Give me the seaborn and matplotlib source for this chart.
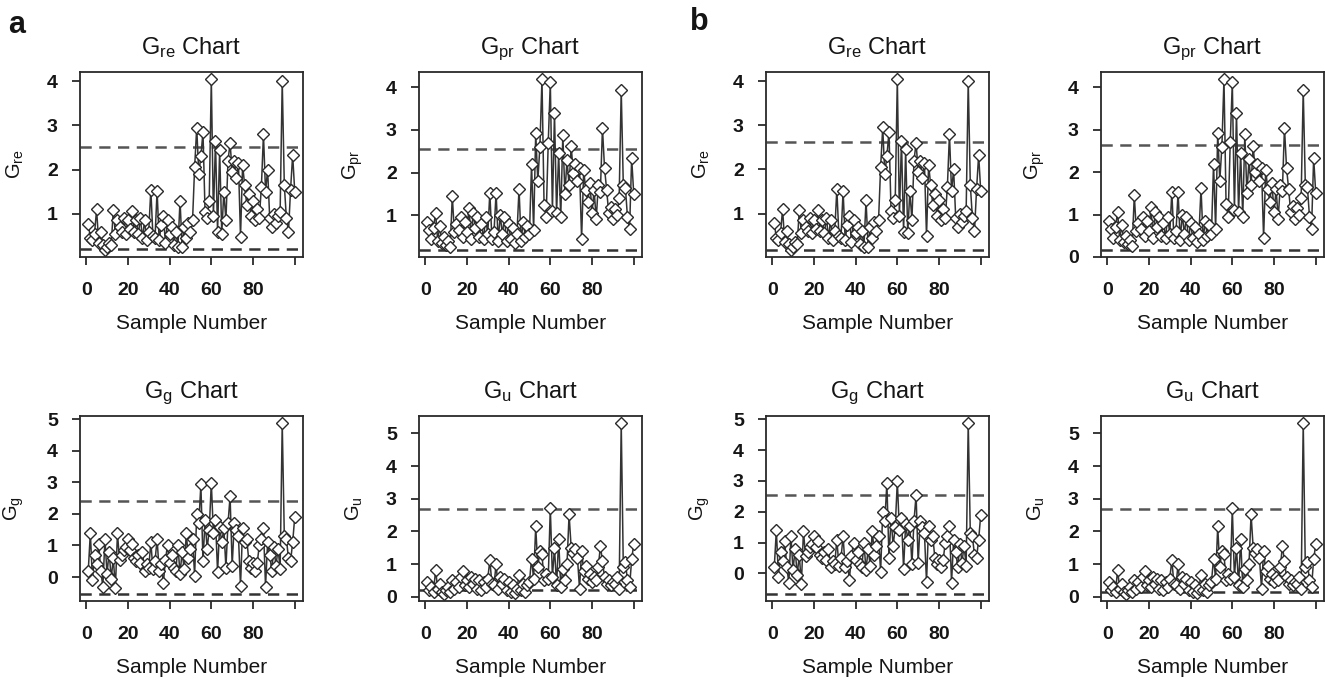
import matplotlib
matplotlib.use("Agg")
import matplotlib.pyplot as plt
import seaborn as sns
import pandas as pd
from matplotlib.ticker import MultipleLocator, FixedLocator

# ---------------- data ----------------
sample = list(range(1, 101))

g_re = [0.78, 0.45, 0.40, 0.55, 1.10, 0.35, 0.60, 0.30, 0.18, 0.25,
        0.35, 0.30, 1.08, 0.55, 0.85, 0.70, 0.60, 0.90, 0.55, 0.85,
        0.65, 1.07, 0.60, 0.85, 0.55, 0.90, 0.45, 0.85, 0.40, 0.60,
        1.55, 0.50, 0.45, 1.52, 0.40, 0.75, 0.95, 0.35, 0.85, 0.55,
        0.70, 0.30, 0.60, 0.25, 1.30, 0.25, 0.70, 0.45, 0.80, 0.60,
        0.85, 2.05, 2.95, 1.90, 2.30, 2.85, 1.05, 0.90, 1.30, 4.05,
        0.95, 2.65, 0.58, 2.45, 0.55, 1.50, 0.85, 2.20, 2.60, 1.95,
        2.20, 1.80, 2.15, 0.48, 2.10, 1.65, 1.20, 1.45, 0.95, 1.30,
        0.85, 1.10, 0.90, 1.60, 2.80, 1.50, 2.00, 0.90, 0.70, 1.00,
        0.80, 0.95, 1.05, 4.00, 1.65, 0.90, 0.60, 1.55, 2.33, 1.50]

g_pr = [0.85, 0.65, 0.45, 0.70, 1.06, 0.40, 0.75, 0.35, 0.50, 0.30,
        0.40, 0.25, 1.45, 0.60, 0.80, 0.65, 0.95, 0.50, 0.85, 0.60,
        1.18, 0.45, 1.05, 0.70, 0.95, 0.50, 0.80, 0.45, 0.95, 0.55,
        1.53, 0.45, 0.60, 1.53, 0.40, 1.00, 0.55, 0.95, 0.40, 0.80,
        0.45, 0.70, 0.35, 0.55, 1.62, 0.40, 0.85, 0.50, 0.75, 0.55,
        2.20, 0.65, 2.93, 1.80, 2.60, 4.20, 1.25, 0.95, 2.70, 4.12,
        1.10, 3.40, 1.05, 2.45, 0.95, 2.89, 1.50, 2.30, 1.70, 2.62,
        2.00, 2.20, 1.80, 2.10, 0.44, 2.05, 1.60, 1.30, 1.75, 1.05,
        1.60, 0.90, 1.70, 1.55, 3.05, 2.10, 1.60, 1.05, 1.20, 0.90,
        1.15, 1.00, 1.40, 3.94, 1.70, 1.65, 0.95, 0.67, 2.34, 1.50]

g_g = [0.20, 1.40, -0.10, 0.70, 0.40, 1.05, 0.20, -0.30, 1.20, 0.10,
       0.80, -0.05, 0.60, -0.35, 1.38, 0.55, 0.70, 0.85, 0.95, 1.20,
       0.85, 1.05, 0.60, 0.50, 0.70, 0.45, 0.80, 0.20, 0.40, 0.30,
       1.10, 0.25, 0.50, 1.20, 0.20, 0.40, -0.20, 0.55, 1.00, 0.45,
       0.70, 0.30, 0.20, 1.00, 0.10, 0.80, 0.25, 1.38, 0.60, 0.90,
       1.20, 0.05, 2.00, 1.70, 2.93, 0.50, 1.80, 0.90, 1.50, 2.98,
       1.40, 1.80, 0.15, 1.60, 1.10, 1.55, 0.30, 1.70, 2.55, 0.35,
       1.70, 1.50, 1.30, -0.28, 1.55, 1.10, 1.20, 0.50, 0.30, 0.45,
       0.20, 0.45, 1.00, 1.20, 1.55, -0.30, 1.10, 0.70, 0.20, 0.95,
       0.35, 0.90, 0.25, 4.88, 1.30, 1.20, 0.60, 0.50, 1.10, 1.90]

g_u = [0.44, 0.20, 0.30, 0.15, 0.82, 0.25, 0.40, 0.15, 0.08, 0.20,
       0.30, 0.15, 0.50, 0.25, 0.45, 0.30, 0.60, 0.80, 0.35, 0.50,
       0.30, 0.60, 0.40, 0.55, 0.25, 0.50, 0.20, 0.45, 0.30, 0.55,
       1.12, 0.40, 0.35, 1.00, 0.25, 0.60, 0.40, 0.55, 0.20, 0.45,
       0.15, 0.35, 0.10, 0.25, 0.67, 0.20, 0.40, 0.15, 0.35, 0.45,
       1.17, 0.55, 2.15, 0.90, 1.40, 1.30, 0.50, 0.70, 0.55, 2.72,
       0.60, 1.50, 0.35, 1.77, 0.30, 0.85, 0.50, 1.00, 2.52, 1.50,
       1.35, 1.45, 1.20, 0.25, 1.40, 0.80, 0.95, 0.55, 0.70, 0.45,
       0.60, 0.50, 0.90, 1.55, 1.10, 0.60, 0.40, 0.50, 0.35, 0.45,
       0.40, 0.60, 0.25, 5.32, 0.90, 1.05, 0.50, 0.30, 1.15, 1.60]

subscripts = ["re", "pr", "g", "u"]
lcl_a = [0.20, 0.18, -0.54, 0.20]
ucl_a = [2.52, 2.56, 2.42, 2.69]
lcl_b = [0.17, 0.16, -0.67, 0.15]
ucl_b = [2.62, 2.64, 2.53, 2.70]
x_ticks = [0, 20, 40, 60, 80, 100]
x_ticklabels = ["0", "20", "40", "60", "80", ""]
panel_letters = ["a", "b"]

series = [g_re, g_pr, g_g, g_u]

# ---------------- style ----------------
sns.set_theme(style="ticks")
plt.rcParams["font.family"] = ["Liberation Sans", "DejaVu Sans"]
plt.rcParams["mathtext.default"] = "regular"

fig = plt.figure(figsize=(13.25, 6.8), dpi=100)
W, H = 1325.0, 680.0

col_left = [[80, 419], [766, 1101]]
row_top = [72, 416]
aw, ah = 223, 185

INK = "#151515"
LINE = "#333333"

for p, (lcls, ucls) in enumerate([(lcl_a, ucl_a), (lcl_b, ucl_b)]):
    for k in range(4):
        r, c = divmod(k, 2)
        left = col_left[p][c]
        top = row_top[r]
        ax = fig.add_axes([left / W, 1 - (top + ah) / H, aw / W, ah / H])
        vals = series[k]
        df = pd.DataFrame({"Sample": sample, "G": vals})
        sns.lineplot(data=df, x="Sample", y="G", ax=ax, color=LINE, lw=1.1,
                     marker="D", markersize=6, markerfacecolor="white",
                     markeredgecolor="#2a2a2a", markeredgewidth=1.0,
                     sort=False, estimator=None, zorder=3)
        ax.axhline(ucls[k], color="#555555", lw=1.8, ls=(0, (4.5, 3)), zorder=2)
        ax.axhline(lcls[k], color="#333333", lw=1.8, ls=(0, (4.5, 3)), zorder=2)

        lo = min(min(vals), lcls[k])
        hi = max(max(vals), ucls[k])
        pad = 0.04 * (hi - lo)
        ax.set_ylim(lo - pad, hi + pad)
        ax.set_xlim(1 - 0.04 * 99, 100 + 0.04 * 99)

        ax.xaxis.set_major_locator(FixedLocator(x_ticks))
        ax.set_xticklabels(x_ticklabels)
        ax.yaxis.set_major_locator(MultipleLocator(1))
        ax.yaxis.set_major_formatter(plt.FuncFormatter(lambda v, _: f"{v:.0f}"))

        for s in ax.spines.values():
            s.set_visible(True)
            s.set_color("#2a2a2a")
            s.set_linewidth(1.3)
        ax.tick_params(axis="both", direction="out", length=6, width=1.3,
                       color="#2a2a2a", labelsize=14, labelcolor=INK)
        ax.tick_params(axis="x", pad=12)
        ax.tick_params(axis="y", pad=10)
        for lab in ax.get_xticklabels() + ax.get_yticklabels():
            lab.set_fontweight("bold")

        sub = subscripts[k]
        ax.set_title(f"G$_{{{sub}}}$ Chart", fontsize=17, color=INK, pad=13)
        ax.set_xlabel("Sample Number", fontsize=15, color=INK, labelpad=11)
        ax.set_ylabel(f"G$_{{{sub}}}$", fontsize=14.5, color=INK, labelpad=15)

fig.text(17 / W, 1 - 25 / H, panel_letters[0], fontsize=22, fontweight="bold",
         ha="center", va="center", color=INK)
fig.text(699 / W, 1 - 22 / H, panel_letters[1], fontsize=22, fontweight="bold",
         ha="center", va="center", color=INK)

fig.savefig("out.png", dpi=100, facecolor="white")
